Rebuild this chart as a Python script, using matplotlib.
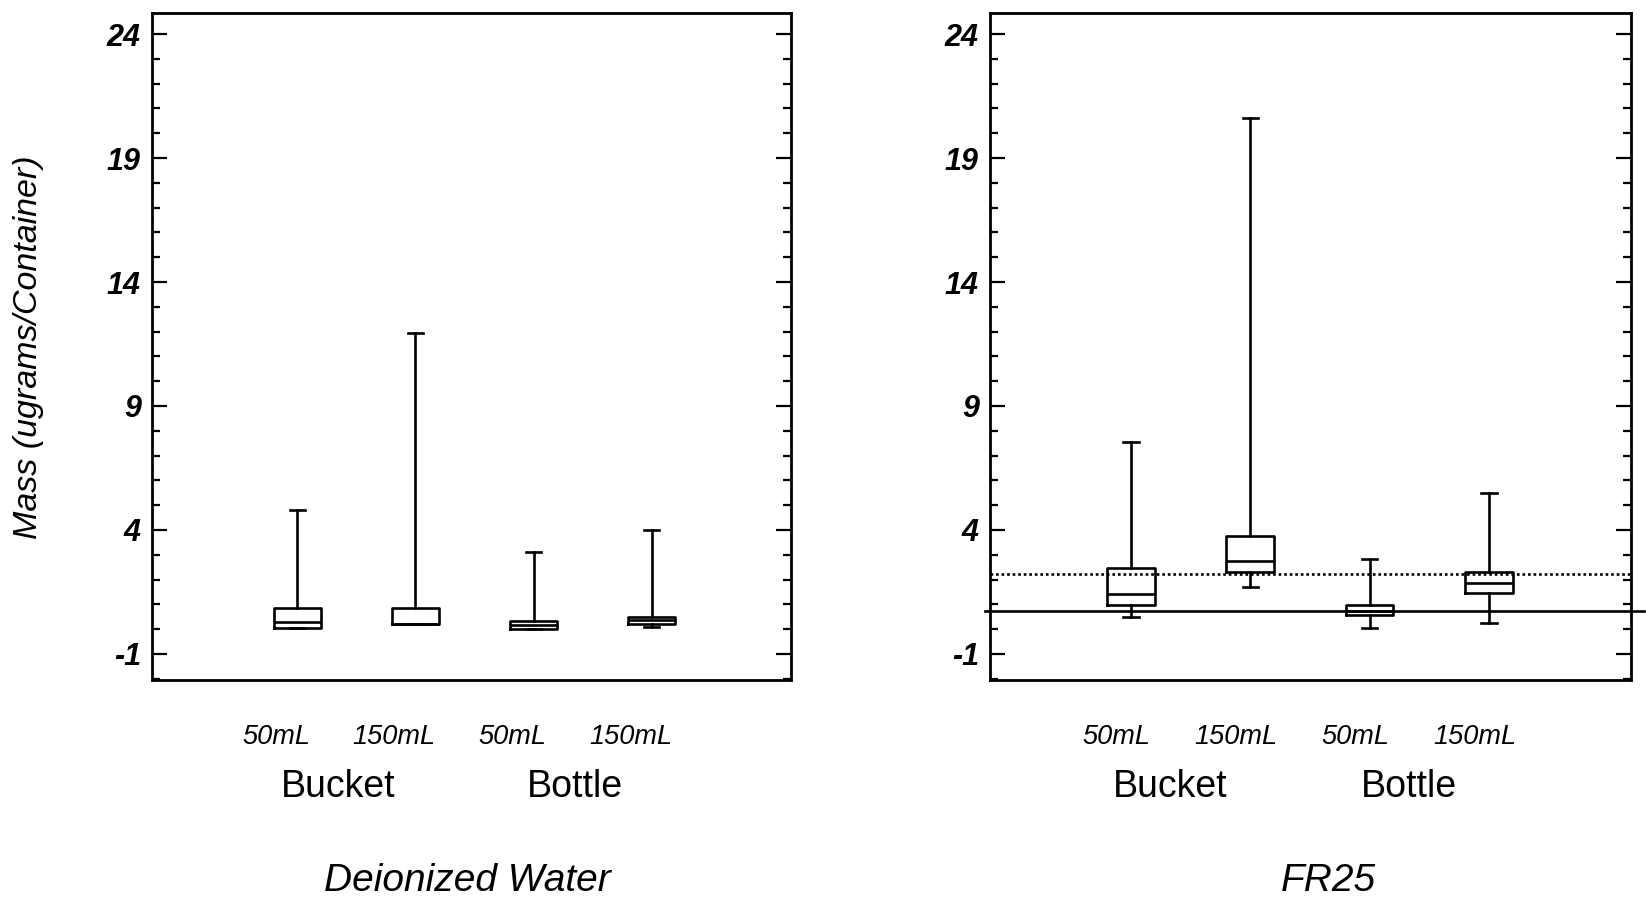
import matplotlib
matplotlib.use("Agg")
import matplotlib.pyplot as plt
from matplotlib.ticker import MultipleLocator
import matplotlib.transforms as mtransforms

plt.rcParams['font.family'] = ['Liberation Sans', 'DejaVu Sans']
plt.rcParams['axes.unicode_minus'] = False

# container groups
sizes = ['50mL', '150mL', '50mL', '150mL']
containers = ['Bucket', 'Bottle']
positions = [1, 2, 3, 4]

# Deionized water: box stats (lower whisker, q1, median, q3, upper whisker)
di_whislo = [0.06, 0.21, 0.02, 0.10]
di_q1 = [0.06, 0.21, 0.02, 0.21]
di_med = [0.30, 0.21, 0.15, 0.38]
di_q3 = [0.87, 0.84, 0.34, 0.51]
di_whishi = [4.81, 11.95, 3.12, 4.00]

# FR25
fr_whislo = [0.51, 1.72, 0.06, 0.24]
fr_q1 = [0.97, 2.32, 0.56, 1.45]
fr_med = [1.41, 2.75, 0.74, 1.85]
fr_q3 = [2.48, 3.77, 0.98, 2.30]
fr_whishi = [7.56, 20.6, 2.81, 5.48]

# reference levels on FR25 panel
fr_solid = 0.75
fr_dotted = 2.23

yticks = [-1, 4, 9, 14, 19, 24]


def make_stats(lo, q1, med, q3, hi):
    return [dict(whislo=a, q1=b, med=c, q3=d, whishi=e, fliers=[])
            for a, b, c, d, e in zip(lo, q1, med, q3, hi)]


def draw_panel(ax, stats, xlim, title, title_x, lab_shift, grp_shift):
    lw = 1.9
    ax.bxp(stats, positions=positions, widths=0.40, showfliers=False,
           boxprops=dict(color='black', linewidth=lw),
           medianprops=dict(color='black', linewidth=lw),
           whiskerprops=dict(color='black', linewidth=lw),
           capprops=dict(color='black', linewidth=lw), capwidths=0.13,
           manage_ticks=False)
    ax.set_xlim(*xlim)
    ax.set_ylim(-2.05, 24.85)
    ax.set_xticks([])
    ax.set_yticks(yticks)
    ax.yaxis.set_minor_locator(MultipleLocator(1))
    ax.tick_params(axis='y', which='both', direction='in', left=True, right=True,
                   width=1.6, pad=8)
    ax.tick_params(axis='y', which='major', length=11)
    ax.tick_params(axis='y', which='minor', length=6)
    for lab in ax.get_yticklabels():
        lab.set_fontsize(22)
        lab.set_fontweight('bold')
        lab.set_style('italic')
    for sp in ax.spines.values():
        sp.set_linewidth(2.0)

    trans = mtransforms.blended_transform_factory(ax.transData, ax.transAxes)
    for p, s in zip(positions, sizes):
        ax.text(p - lab_shift, -0.085, s, transform=trans, ha='center', va='center',
                fontsize=19.5, style='italic')
    for i, c in enumerate(containers):
        mid = (positions[2 * i] + positions[2 * i + 1]) / 2 - grp_shift
        ax.text(mid, -0.16, c, transform=trans, ha='center', va='center', fontsize=27)
    ax.text(title_x, -0.302, title, transform=ax.transAxes, ha='center', va='center',
            fontsize=28, style='italic')


fig = plt.figure(figsize=(16.46, 9.01), dpi=100)
ax1 = fig.add_axes([0.0923, 0.2453, 0.3883, 0.7403])
ax2 = fig.add_axes([0.6015, 0.2453, 0.3894, 0.7403])

draw_panel(ax1, make_stats(di_whislo, di_q1, di_med, di_q3, di_whishi),
           (-0.23, 5.18), 'Deionized Water', 0.493, 0.18, 0.15)
draw_panel(ax2, make_stats(fr_whislo, fr_q1, fr_med, fr_q3, fr_whishi),
           (-0.18, 5.19), 'FR25', 0.528, 0.12, 0.17)

fig.text(29 / 1646, 0.615, 'Mass (ugrams/Container)', rotation=90, ha='center',
         va='center', fontsize=24.5, style='italic')

ax2.plot([-0.22, 5.30], [fr_solid, fr_solid], color='black', linewidth=1.9, clip_on=False)
ax2.plot([-0.18, 5.19], [fr_dotted, fr_dotted], color='black', linewidth=1.9,
         linestyle=(0, (1, 1.1)))

fig.savefig('out.png', dpi=100)
